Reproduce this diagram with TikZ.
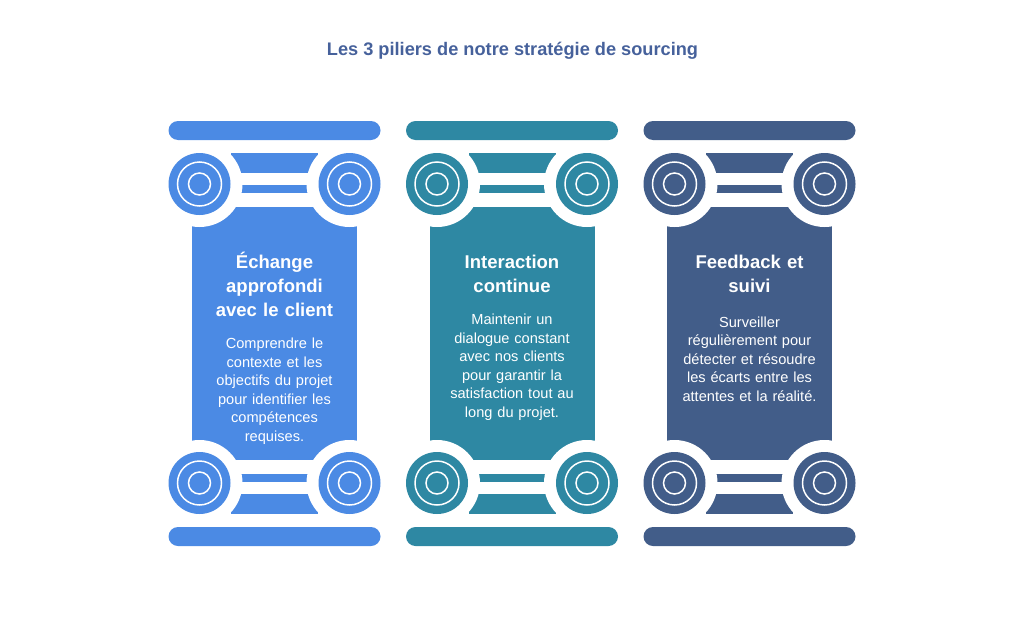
\documentclass[tikz,border=0pt]{standalone}
\usepackage{fontspec}
\setmainfont{Liberation Sans}
\usetikzlibrary{positioning}
\definecolor{pillarA}{HTML}{4B8AE4}
\definecolor{pillarB}{HTML}{2E88A3}
\definecolor{pillarC}{HTML}{425D89}
\definecolor{titleblue}{HTML}{46619B}
\begin{document}
\begin{tikzpicture}[x=1pt,y=-1pt]
	\tikzset{head/.style = {text=white, font=\fontsize{18.5}{24}\selectfont\bfseries, align=center, text width=170pt, inner sep=0pt, anchor=north, execute at begin node=\strut, execute at end node=\strut},
		body/.style = {text=white, font=\fontsize{14.6}{18.5}\selectfont, align=center, text width=170pt, inner sep=0pt, execute at begin node=\strut, execute at end node=\strut},
		ring/.style = {draw=white, line width=1.5pt}}

	\useasboundingbox (0,0) rectangle (1024,621);
	\node[text=titleblue, font=\fontsize{18.2}{22}\selectfont\bfseries] (title) at (512.5,51) {Les 3 piliers de notre stratégie de sourcing};

	\foreach \cx/\col in {274.5/pillarA, 512/pillarB, 749.5/pillarC} {
		\fill[\col] (\cx-82.5,207) rectangle (\cx+82.5,460);
		\fill[\col] (\cx-43.5,153) rectangle (\cx+43.5,173);
		\fill[\col] (\cx-43.5,185) rectangle (\cx+43.5,193);
		\fill[\col] (\cx-43.5,494) rectangle (\cx+43.5,514);
		\fill[\col] (\cx-43.5,474) rectangle (\cx+43.5,482);
		\foreach \vx/\vy in {-75/184, 75/184, -75/483, 75/483} {
			\fill[white] (\cx+\vx,\vy) circle (43);
			\fill[\col] (\cx+\vx,\vy) circle (31);
			\draw[ring] (\cx+\vx,\vy) circle (22);
			\draw[ring] (\cx+\vx,\vy) circle (11);
		}
		\fill[\col, rounded corners=9.5pt] (\cx-106,121) rectangle (\cx+106,140);
		\fill[\col, rounded corners=9.5pt] (\cx-106,527) rectangle (\cx+106,546);
	}

	\node[head] (head1) at (274.5,251.7) {Échange\\approfondi\\avec le client};
	\node[body, below=11.4pt of head1] (text1) {Comprendre le\\contexte et les\\objectifs du projet\\pour identifier les\\compétences\\requises.};

	\node[head] (head2) at (512,251.7) {Interaction\\continue};
	\node[body, below=11.4pt of head2] (text2) {Maintenir un\\dialogue constant\\avec nos clients\\pour garantir la\\satisfaction tout au\\long du projet.};

	\node[head] (head3) at (749.5,251.7) {Feedback et\\suivi};
	\node[body, below=14pt of head3] (text3) {Surveiller\\régulièrement pour\\détecter et résoudre\\les écarts entre les\\attentes et la réalité.};

\end{tikzpicture}
\end{document}
